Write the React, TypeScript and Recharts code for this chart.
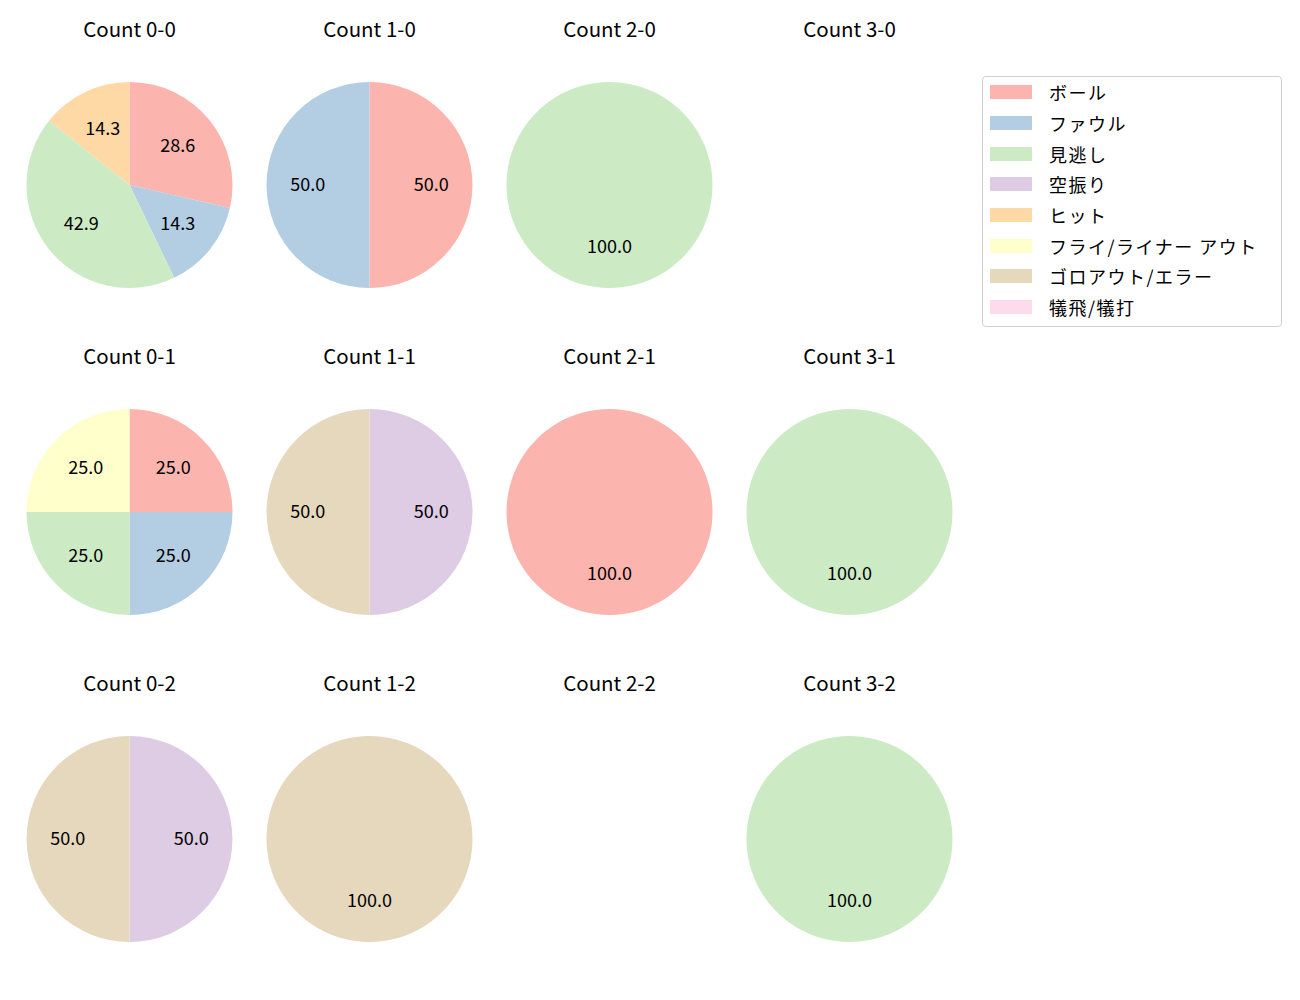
import { PieChart, Pie, Cell } from 'recharts';

const CATEGORIES = [
  'ボール', 'ファウル', '見逃し', '空振り', 'ヒット',
  'フライ/ライナー アウト', 'ゴロアウト/エラー', '犠飛/犠打',
];

const COLORS = [
  '#fbb4ae', '#b3cde3', '#ccebc5', '#decbe4',
  '#fed9a6', '#ffffcc', '#e5d8bd', '#fddaec',
];

// counts per category, same order as CATEGORIES
const COUNT_0_0 = [2, 1, 3, 0, 1, 0, 0, 0];
const COUNT_1_0 = [1, 1, 0, 0, 0, 0, 0, 0];
const COUNT_2_0 = [0, 0, 1, 0, 0, 0, 0, 0];
const COUNT_3_0 = [0, 0, 0, 0, 0, 0, 0, 0];
const COUNT_0_1 = [1, 1, 1, 0, 0, 1, 0, 0];
const COUNT_1_1 = [0, 0, 0, 1, 0, 0, 1, 0];
const COUNT_2_1 = [1, 0, 0, 0, 0, 0, 0, 0];
const COUNT_3_1 = [0, 0, 1, 0, 0, 0, 0, 0];
const COUNT_0_2 = [0, 0, 0, 1, 0, 0, 1, 0];
const COUNT_1_2 = [0, 0, 0, 0, 0, 0, 1, 0];
const COUNT_2_2 = [0, 0, 0, 0, 0, 0, 0, 0];
const COUNT_3_2 = [0, 0, 1, 0, 0, 0, 0, 0];

const PANELS = [
  { title: 'Count 0-0', values: COUNT_0_0 },
  { title: 'Count 1-0', values: COUNT_1_0 },
  { title: 'Count 2-0', values: COUNT_2_0 },
  { title: 'Count 3-0', values: COUNT_3_0 },
  { title: 'Count 0-1', values: COUNT_0_1 },
  { title: 'Count 1-1', values: COUNT_1_1 },
  { title: 'Count 2-1', values: COUNT_2_1 },
  { title: 'Count 3-1', values: COUNT_3_1 },
  { title: 'Count 0-2', values: COUNT_0_2 },
  { title: 'Count 1-2', values: COUNT_1_2 },
  { title: 'Count 2-2', values: COUNT_2_2 },
  { title: 'Count 3-2', values: COUNT_3_2 },
];

const FONT = "'Noto Sans CJK JP', 'DejaVu Sans', sans-serif";
const COL_X = [129.5, 369.5, 609.5, 849.5];
const ROW_Y = [185, 512, 839];
const RADIUS = 103;
const RAD = Math.PI / 180;

const renderLabel = (props: any) => {
  const { cx, cy, midAngle, outerRadius, percent } = props;
  const r = outerRadius * 0.6;
  const x = cx + r * Math.cos(-midAngle * RAD);
  const y = cy + r * Math.sin(-midAngle * RAD) - 2;
  return (
    <text x={x} y={y} textAnchor="middle" dominantBaseline="central"
      fontSize={18} fontFamily={FONT} fill="#000">
      {(percent * 100).toFixed(1)}
    </text>
  );
};

export default function App() {
  return (
    <div style={{ position: 'absolute', left: 0, top: 0, width: 1300, height: 1000, background: '#fff', fontFamily: FONT }}>
      <PieChart width={1300} height={1000} margin={{ top: 0, right: 0, bottom: 0, left: 0 }}>
        {PANELS.map((p, i) => {
          const data = CATEGORIES
            .map((name, k) => ({ name, value: p.values[k], color: COLORS[k] }))
            .filter(d => d.value > 0);
          if (data.length === 0) return null;
          return (
            <Pie
              key={p.title}
              data={data}
              dataKey="value"
              nameKey="name"
              cx={COL_X[i % 4]}
              cy={ROW_Y[Math.floor(i / 4)]}
              outerRadius={RADIUS}
              innerRadius={0}
              startAngle={90}
              endAngle={-270}
              stroke="none"
              label={renderLabel}
              labelLine={false}
              isAnimationActive={false}
            >
              {data.map(d => <Cell key={d.name} fill={d.color} />)}
            </Pie>
          );
        })}
      </PieChart>

      {PANELS.map((p, i) => (
        <div key={p.title} style={{
          position: 'absolute',
          left: COL_X[i % 4] - 100,
          width: 200,
          top: ROW_Y[Math.floor(i / 4)] - 171,
          textAlign: 'center',
          fontSize: 20.5,
          lineHeight: '28px',
          color: '#000',
        }}>
          {p.title}
        </div>
      ))}

      <div style={{
        position: 'absolute', left: 982, top: 76, width: 300, height: 251,
        border: '1px solid #d0d0d0', borderRadius: 4, background: '#fff',
        padding: '0 0 0 0', boxSizing: 'border-box',
      }}>
        {CATEGORIES.map((c, k) => (
          <div key={c} style={{ display: 'flex', alignItems: 'center', height: 30.7 }}>
            <div style={{ width: 42, height: 14, background: COLORS[k], marginLeft: 7, marginRight: 17 }} />
            <span style={{ fontSize: 18, letterSpacing: 1.5, color: '#000', whiteSpace: 'nowrap' }}>{c}</span>
          </div>
        ))}
      </div>
    </div>
  );
}
